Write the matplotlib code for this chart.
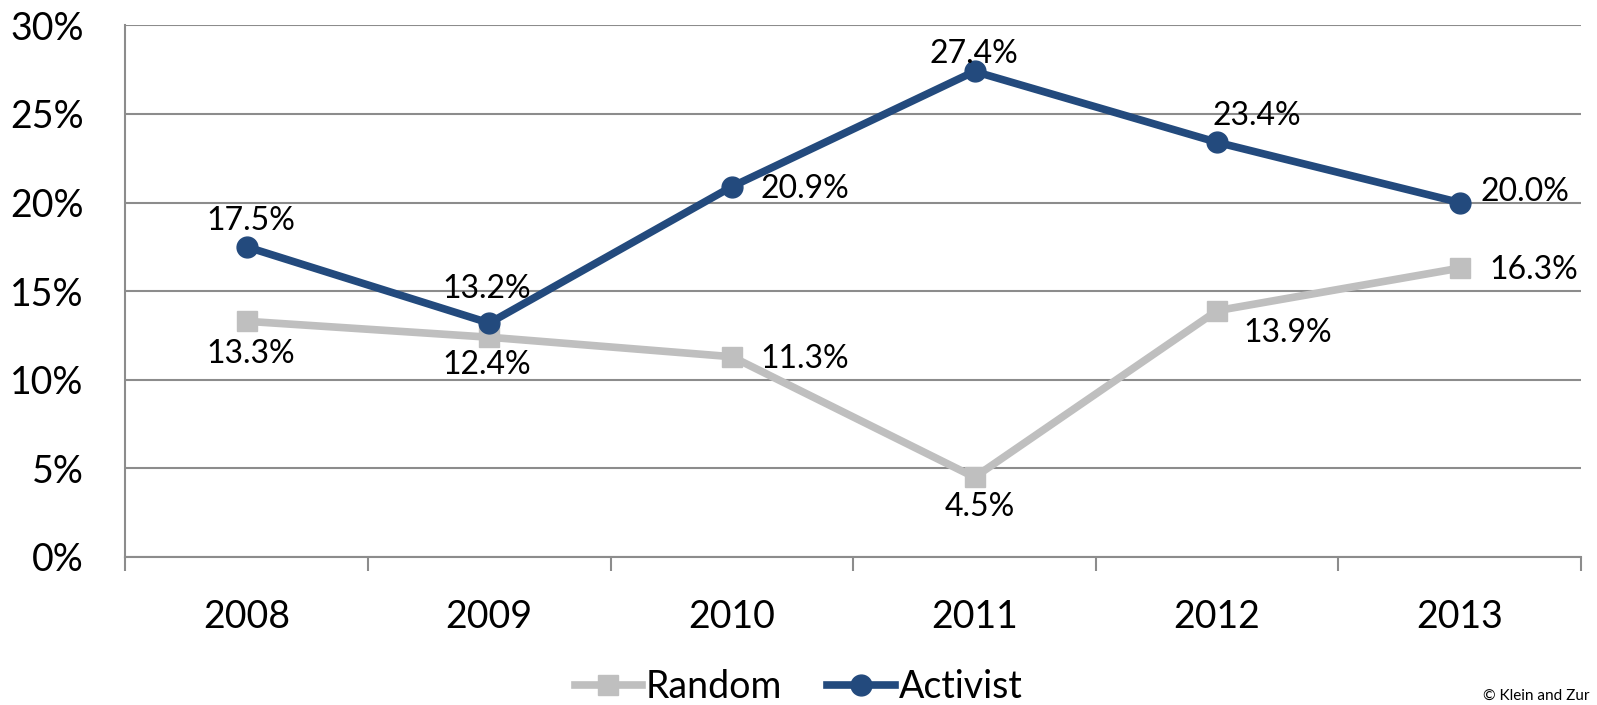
import numpy as np
import matplotlib.pyplot as plt

years = ['2008', '2009', '2010', '2011', '2012', '2013']
random_pct = [13.3, 12.4, 11.3, 4.5, 13.9, 16.3]
activist_pct = [17.5, 13.2, 20.9, 27.4, 23.4, 20.0]

# label offsets in pixels (dx, dy) relative to each point
random_off = [(4, -33), (-3, -28), (73, -2), (5, -30), (71, -22), (74, -2)]
activist_off = [(4, 26), (-3, 34), (73, -2), (-1, 17), (40, 26), (65, 11)]

plt.rcParams['font.family'] = ['Lato', 'DejaVu Sans']

fig = plt.figure(figsize=(15.97, 7.05), dpi=100)
ax = fig.add_axes([0.0785, 0.21, 0.9115, 0.754])

x = np.arange(len(years))
grey = '#BFBFBF'
blue = '#234A7D'

ax.plot(x, random_pct, color=grey, lw=5.5, marker='s', ms=15, mec=grey, mfc=grey,
        label='Random', zorder=3)
ax.plot(x, activist_pct, color=blue, lw=5.5, marker='o', ms=15, mec=blue, mfc=blue,
        label='Activist', zorder=4)

for i, v in enumerate(random_pct):
    ax.annotate(f'{v:.1f}%', (x[i], v), xytext=random_off[i], textcoords='offset pixels',
                ha='center', va='center', fontsize=23, color='black', zorder=5)
for i, v in enumerate(activist_pct):
    ax.annotate(f'{v:.1f}%', (x[i], v), xytext=activist_off[i], textcoords='offset pixels',
                ha='center', va='center', fontsize=23, color='black', zorder=5)

ax.set_xlim(-0.5, len(years) - 0.5)
ax.set_ylim(0, 30)
ax.set_yticks(np.arange(0, 31, 5))
ax.set_yticklabels([f'{t}%' for t in range(0, 31, 5)], fontsize=27)
ax.yaxis.grid(True, color='#8C8C8C', lw=1.5)
ax.set_axisbelow(True)
ax.tick_params(axis='y', length=0, pad=30)

ax.set_xticks(x)
ax.set_xticklabels(years, fontsize=27)
ax.set_xticks(np.arange(-0.5, len(years)), minor=True)
ax.tick_params(axis='x', which='major', length=0, pad=30)
ax.tick_params(axis='x', which='minor', length=10, width=1.5, color='#8C8C8C', direction='out')

for s in ['top', 'right']:
    ax.spines[s].set_visible(False)
ax.spines['left'].set_color('#8C8C8C')
ax.spines['left'].set_linewidth(1.5)
ax.spines['bottom'].set_color('#8C8C8C')
ax.spines['bottom'].set_linewidth(1.5)

leg = fig.legend(loc='center', bbox_to_anchor=(0.5, 0.025), ncol=2, frameon=False,
                 fontsize=27, handlelength=1.8, handletextpad=0.1, columnspacing=1.2)

fig.text(0.995, 0.003, '\u00a9 Klein and Zur', fontsize=11, va='bottom', ha='right')

fig.savefig('out.png', dpi=100)
